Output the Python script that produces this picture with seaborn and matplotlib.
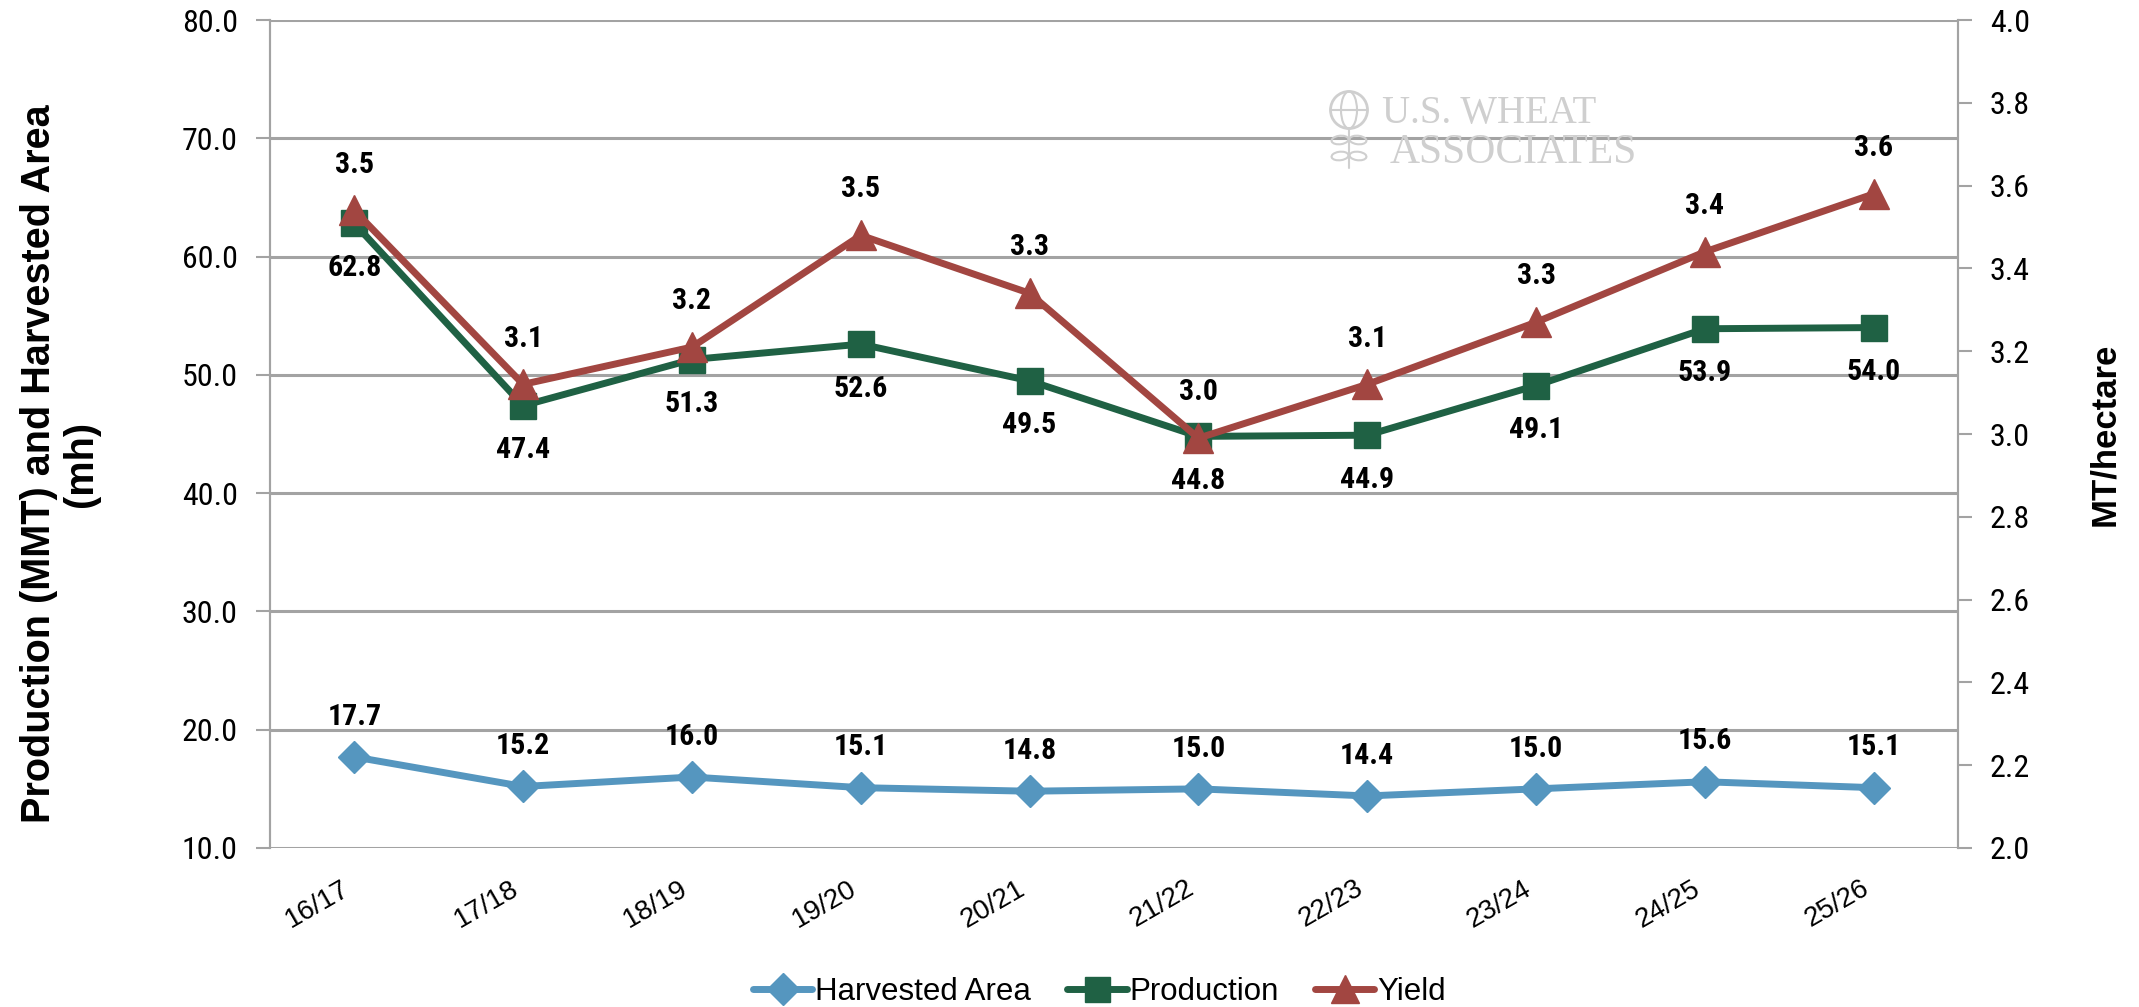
import matplotlib
matplotlib.use("Agg")
import matplotlib.pyplot as plt
from matplotlib import font_manager as fm
from matplotlib.lines import Line2D
from matplotlib.patches import Ellipse
import numpy as np
import pandas as pd
import seaborn as sns

# 数据
years = ["16/17", "17/18", "18/19", "19/20", "20/21", "21/22", "22/23", "23/24", "24/25", "25/26"]
harvested_area = [17.7, 15.2, 16.0, 15.1, 14.8, 15.0, 14.4, 15.0, 15.6, 15.1]
production = [62.8, 47.4, 51.3, 52.6, 49.5, 44.8, 44.9, 49.1, 53.9, 54.0]
yield_t = [3.54, 3.12, 3.21, 3.48, 3.34, 2.99, 3.12, 3.27, 3.44, 3.58]

left_ticks = [10, 20, 30, 40, 50, 60, 70, 80]
right_ticks = [2.0, 2.2, 2.4, 2.6, 2.8, 3.0, 3.2, 3.4, 3.6, 3.8, 4.0]

c_area = "#5596BF"
c_prod = "#1F6144"
c_yield = "#A24641"
c_grid = "#A3A3A3"

sns.set_theme(style="white")
plt.rcParams["font.family"] = ["Liberation Sans", "DejaVu Sans"]
plt.rcParams["text.color"] = "black"
plt.rcParams["axes.labelcolor"] = "black"
plt.rcParams["xtick.labelcolor"] = "black"
plt.rcParams["ytick.labelcolor"] = "black"

# 找一个窄体字体 (数字标签用)
names = {f.name for f in fm.fontManager.ttflist}
narrow_family, narrow_stretch = "DejaVu Sans", "normal"
for cand in ["Roboto Condensed", "Liberation Sans Narrow", "Arial Narrow",
             "Noto Sans Condensed", "Open Sans Condensed", "DejaVu Sans Condensed"]:
    if cand in names:
        narrow_family = cand
        break
else:
    cond = [f for f in fm.fontManager.ttflist
            if str(f.stretch) in ("condensed", "semi-condensed", "500", "400", "300")
            and f.name in ("DejaVu Sans", "Noto Sans", "Roboto", "Open Sans")]
    if cond:
        narrow_family, narrow_stretch = cond[0].name, "condensed"
narrow = dict(family=[narrow_family, "DejaVu Sans"], stretch=narrow_stretch)

df = pd.DataFrame({"year": years, "area": harvested_area,
                   "production": production, "yield": yield_t})

fig = plt.figure(figsize=(21.39, 10.07), dpi=100)
ax = fig.add_axes([0.1262, 0.1579, 0.7892, 0.8222])
ax2 = ax.twinx()

sns.lineplot(data=df, x="year", y="area", ax=ax, color=c_area, lw=5,
             marker="D", markersize=16, markeredgewidth=1, markeredgecolor=c_area,
             sort=False, zorder=3)
sns.lineplot(data=df, x="year", y="production", ax=ax, color=c_prod, lw=5,
             marker="s", markersize=19, markeredgewidth=1, markeredgecolor=c_prod,
             sort=False, zorder=3)
sns.lineplot(data=df, x="year", y="yield", ax=ax2, color=c_yield, lw=5,
             marker="^", markersize=21, markeredgewidth=1, markeredgecolor=c_yield,
             sort=False, zorder=3)

# 坐标轴
ax.set_xlim(-0.5, len(years) - 0.5)
ax.set_ylim(10, 80)
ax2.set_ylim(2.0, 4.0)
ax.set_yticks(left_ticks)
ax.set_yticklabels([f"{v:.1f}" for v in left_ticks], fontsize=23, **narrow)
ax2.set_yticks(right_ticks)
ax2.set_yticklabels([f"{v:.1f}" for v in right_ticks], fontsize=23, **narrow)

ax.set_xticks(range(len(years)))
ax.set_xticklabels(years, rotation=30, ha="right", va="bottom", rotation_mode="anchor",
                   fontsize=20)
ax.set_xticks(np.arange(-0.5, len(years)), minor=True)
ax.tick_params(axis="x", which="major", length=0, pad=36)
ax.tick_params(axis="x", which="minor", length=10, width=1.5, color=c_grid, direction="out")
ax.tick_params(axis="y", length=10, width=1.5, color=c_grid, direction="out", pad=13)
ax2.tick_params(axis="y", length=10, width=1.5, color=c_grid, direction="out", pad=13)

ax.grid(axis="y", color=c_grid, lw=2.2)
ax.set_axisbelow(True)
for a in (ax, ax2):
    for s in ("top", "bottom"):
        a.spines[s].set_visible(False)
    a.spines["left"].set_color(c_grid)
    a.spines["right"].set_color(c_grid)
    a.spines["left"].set_linewidth(1.5)
    a.spines["right"].set_linewidth(1.5)
    a.set_xlabel("")

ax.set_ylabel("Production (MMT) and Harvested Area\n(mh)", fontsize=28.5,
              fontweight="bold", linespacing=1.12)
ax.yaxis.set_label_coords(-0.1007, 0.464)
ax2.set_ylabel("MT/hectare", fontsize=25, fontweight="bold")
ax2.yaxis.set_label_coords(1.077, 0.5)

# 数据标签
lab = dict(ha="center", va="center", fontsize=21.5, fontweight="bold",
           textcoords="offset points", color="black", **narrow)
for i, v in enumerate(harvested_area):
    ax.annotate(f"{v:.1f}", (i, v), xytext=(0, 29), **lab)
for i, v in enumerate(production):
    ax.annotate(f"{v:.1f}", (i, v), xytext=(0, -32), **lab)
for i, v in enumerate(yield_t):
    ax2.annotate(f"{v:.1f}", (i, v), xytext=(0, 33), **lab)

# 水印
wm = "#CFCFCF"
W, H = 2139, 1007
serif = ["Liberation Serif", "DejaVu Serif"]
fig.text(1382 / W, 1 - 123 / H, "U.S. WHEAT", fontsize=28, color=wm, family=serif, zorder=0)
fig.text(1390 / W, 1 - 163 / H, "ASSOCIATES", fontsize=30, color=wm, family=serif, zorder=0)
logo = [
    Ellipse((1349 / W, 1 - 110 / H), 37 / W, 37 / H, fill=False, ec=wm, lw=2),
    Ellipse((1349 / W, 1 - 110 / H), 16 / W, 37 / H, fill=False, ec=wm, lw=1.5),
    Ellipse((1340 / W, 1 - 140 / H), 16 / W, 9 / H, angle=-30, fill=False, ec=wm, lw=1.5),
    Ellipse((1358 / W, 1 - 140 / H), 16 / W, 9 / H, angle=30, fill=False, ec=wm, lw=1.5),
    Ellipse((1340 / W, 1 - 156 / H), 16 / W, 9 / H, angle=-30, fill=False, ec=wm, lw=1.5),
    Ellipse((1358 / W, 1 - 156 / H), 16 / W, 9 / H, angle=30, fill=False, ec=wm, lw=1.5),
]
for p in logo:
    p.set_transform(fig.transFigure)
    fig.patches.append(p)
fig.add_artist(Line2D([1349 / W, 1349 / W], [1 - 128 / H, 1 - 168 / H], color=wm, lw=1.5,
                      transform=fig.transFigure))
fig.add_artist(Line2D([1331 / W, 1367 / W], [1 - 110 / H, 1 - 110 / H], color=wm, lw=1.5,
                      transform=fig.transFigure))

# 图例
handles = [
    Line2D([], [], color=c_area, lw=5, marker="D", markersize=16, markeredgecolor=c_area),
    Line2D([], [], color=c_prod, lw=5, marker="s", markersize=18, markeredgecolor=c_prod),
    Line2D([], [], color=c_yield, lw=5, marker="^", markersize=20, markeredgecolor=c_yield),
]
fig.legend(handles, ["Harvested Area", "Production", "Yield"], loc="center",
           bbox_to_anchor=(0.514, 1 - 992 / H), ncol=3, frameon=False, fontsize=22.5,
           handlelength=1.9, handletextpad=0.1, columnspacing=1.15, borderpad=0)

fig.savefig("out.png", dpi=100)
